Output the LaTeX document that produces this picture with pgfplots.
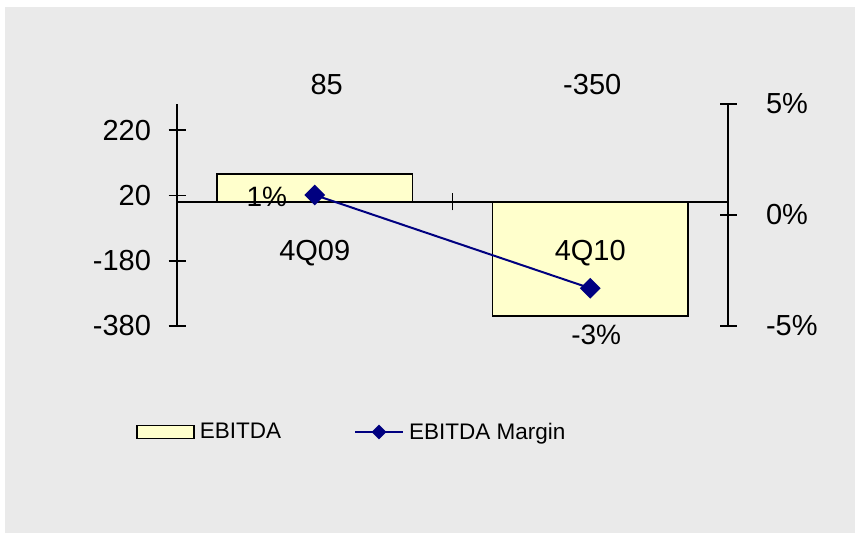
\documentclass[border=0pt]{standalone}
\usepackage{pgfplots}
\usepackage{pgfplotstable}
\pgfplotsset{compat=1.18}
\usepackage{fontspec}
\setmainfont{Liberation Sans}

\definecolor{panelgray}{RGB}{234,234,234}
\definecolor{barfill}{RGB}{255,255,204}
\definecolor{marginblue}{RGB}{0,0,128}

% EBITDA by quarter, with label offsets (pt)
\pgfplotstableread{
x  ebitda dx dy
0  85     12 90
1  -350   2  232
}\ebitdatable

% EBITDA margin (%), with label offsets (pt)
\pgfplotstableread{
x  margin dx   dy
0  0.9    -48  -2
1  -3.3   6    -47
}\margintable

\tikzset{zeroline/.style={black, line width=1.6pt}}

\pgfplotsset{
  barlegendimg/.style={legend image code/.code={%
    \draw[##1] (0pt,-6.5pt) rectangle (57pt,6.5pt);}},
  linelegendimg/.style={legend image code/.code={%
    \draw[mark repeat=2, mark phase=2, ##1, mark size=4.2pt]
      plot coordinates {(0pt,0pt) (24pt,0pt) (48pt,0pt)};}},
  plainlines/.style={
    every inner x axis line/.append style={-},
    every outer x axis line/.append style={-},
    every inner y axis line/.append style={-},
    every outer y axis line/.append style={-},
  },
  chartbase/.style={
    scale only axis, width=551pt, height=222pt,
    at={(177pt,209pt)}, anchor=south west,
    xmin=-0.5, xmax=1.5, enlargelimits=false,
    axis line style={-, line width=1.6pt, black},
    major tick length=17pt, tick align=center,
    ytick style={black, line width=1.6pt},
    /pgf/number format/assume math mode=true,
    tick label style={font=\fontsize{29}{34}\selectfont, text=black},
  },
}

\begin{document}
\begin{tikzpicture}[x=1pt,y=1pt]
\useasboundingbox (0,0) rectangle (855,535);
\fill[white] (0,0) rectangle (855,535);
\fill[panelgray] (5,2) rectangle (855,528);

\begin{axis}[chartbase,
  ymin=-380, ymax=300,
  axis y line=left, axis x line=bottom, plainlines,
  x axis line style={draw=none},
  axis on top,
  ytick={-380,-180,20,220},
  yticklabel style={xshift=-14pt},
  % category names sit just under the zero line
  xtick={0,1}, xticklabels={4Q09,4Q10},
  xtick style={draw=none}, major x tick style={draw=none},
  xticklabel style={yshift=106pt},
  ybar, bar width=0.711,
]
\addplot[draw=black, fill=barfill, line width=1.6pt,
  visualization depends on={\thisrow{dx} \as \labdx},
  visualization depends on={\thisrow{dy} \as \labdy},
  nodes near coords,
  every node near coord/.append style={anchor=center,
    xshift=\labdx pt, yshift=\labdy pt, text=black,
    font=\fontsize{29}{34}\selectfont,
    /pgf/number format/assume math mode=true},
] table[x=x, y=ebitda] {\ebitdatable};
% category axis along zero, with boundary ticks
\draw[zeroline] (axis cs:-0.5,0) -- (axis cs:1.5,0);
\draw[zeroline] ([yshift=-8.5pt]axis cs:-0.5,0) -- ([yshift=8.5pt]axis cs:-0.5,0);
\draw[zeroline] ([yshift=-8.5pt]axis cs:0.5,0) -- ([yshift=8.5pt]axis cs:0.5,0);
\draw[zeroline] ([yshift=-8.5pt]axis cs:1.5,0) -- ([yshift=8.5pt]axis cs:1.5,0);
\end{axis}

\begin{axis}[chartbase,
  ymin=-5, ymax=5, ytick={-5,0,5}, xtick=\empty,
  yticklabel={\pgfmathprintnumber{\tick}\%},
  yticklabel style={xshift=26pt},
  axis y line=right, axis x line=none, plainlines,
  legend columns=2,
  legend style={draw=none, fill=none, inner sep=0pt,
    at={([xshift=-41pt, yshift=-106pt]axis description cs:0,0)}, anchor=west,
    font=\fontsize{22.5}{27}\selectfont,
    /tikz/every odd column/.append style={column sep=3pt},
    /tikz/every even column/.append style={column sep=71pt}},
]
\addlegendimage{draw=black, fill=barfill, line width=1.6pt, barlegendimg}
\addlegendentry{EBITDA}
\addplot[marginblue, line width=2pt, mark=square*, mark size=6.4pt,
  mark options={rotate=45}, linelegendimg,
  visualization depends on={\thisrow{dx} \as \labdx},
  visualization depends on={\thisrow{dy} \as \labdy},
  nodes near coords={\pgfmathprintnumber[fixed, precision=0]{\pgfplotspointmeta}\%},
  every node near coord/.append style={anchor=center,
    xshift=\labdx pt, yshift=\labdy pt, text=black,
    font=\fontsize{28}{33}\selectfont,
    /pgf/number format/assume math mode=true},
] table[x=x, y=margin] {\margintable};
\addlegendentry{EBITDA Margin}
\end{axis}
\end{tikzpicture}
\end{document}
